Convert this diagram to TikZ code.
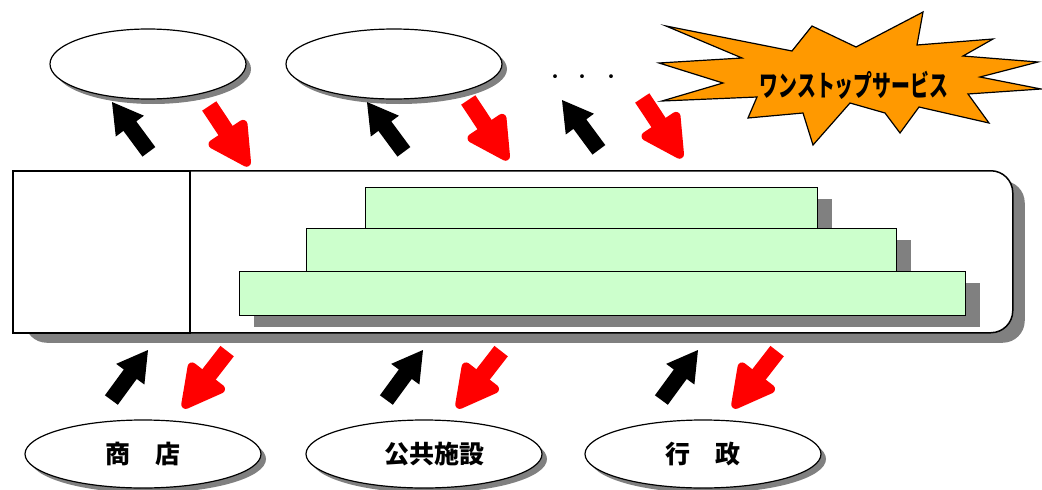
\documentclass[tikz,border=0pt]{standalone}
\usepackage{fontspec}
\newfontfamily\jp{Noto Sans CJK JP}
\usetikzlibrary{shapes.geometric,shadows}
\definecolor{mint}{HTML}{CCFFCC}
\definecolor{burst}{HTML}{FF9900}
\definecolor{shade}{HTML}{808080}
\tikzset{
  bubble/.style={ellipse, draw, line width=1.2pt, fill=white, inner sep=0pt,
    drop shadow={shadow xshift=5pt, shadow yshift=-5pt, fill=shade, opacity=1}},
  layer/.style={rectangle, draw, line width=1.2pt, fill=mint, inner sep=0pt, anchor=north west,
    drop shadow={shadow xshift=14pt, shadow yshift=-11pt, fill=shade, opacity=1}},
  lbl/.style={font=\jp\bfseries\fontsize{25}{25}\selectfont},
  blackarrow/.pic={\fill[black] (0,0) -- (-30,17.5) -- (-30,8) -- (-62,8) -- (-62,-8) -- (-30,-8) -- (-30,-17.5) -- cycle;},
  redarrow/.pic={\fill[red] (-34,-8.5) rectangle (-72,8.5);
    \filldraw[red, line width=9pt, line join=round] (-4.5,0) -- (-38,18) -- (-38,-18) -- cycle;}
}
\begin{document}
\begin{tikzpicture}[x=1pt,y=-1pt]
\useasboundingbox (0,0) rectangle (1042,490);

% top ellipses
\node[bubble, minimum width=196pt, minimum height=70pt] (t1) at (148,64) {};
\node[bubble, minimum width=216pt, minimum height=70pt] (t2) at (394,64) {};
\node[font=\jp\fontsize{18}{18}\selectfont] (dots) at (583,79) {・\hspace{10pt}・\hspace{10pt}・};

% starburst
\filldraw[fill=burst, draw=black, line width=1.2pt, line join=miter]
  (666,26) -- (792,51) -- (812,26) -- (856,47) -- (923,12) -- (917,45) -- (993,39)
  -- (963,56) -- (1038,62) -- (980,77) -- (1041,89) -- (968,94) -- (989,123)
  -- (919,107) -- (900,133) -- (885,113) -- (850,103) -- (813,145) -- (803,113)
  -- (748,118) -- (757,97) -- (662,101) -- (723,83) -- (659,63) -- (742,58) -- cycle;
\node[font=\jp\bfseries\fontsize{29}{29}\selectfont, xscale=0.65] (burstlbl) at (854,85) {ワンストップサービス};

% main panel
\node[draw, line width=1.5pt, fill=white, rounded corners=22pt, anchor=north west,
  minimum width=1000pt, minimum height=162pt, inner sep=0pt,
  drop shadow={shadow xshift=12pt, shadow yshift=-10pt, fill=shade, opacity=1}] (panel) at (12,170) {};
\node[draw, line width=1.5pt, fill=white, anchor=north west, minimum width=177pt, minimum height=162pt, inner sep=0pt] (leftbox) at (12,170) {};

% layers
\node[layer, minimum width=452pt, minimum height=41pt] (l1) at (365,187) {};
\node[layer, minimum width=590pt, minimum height=43pt] (l2) at (306,228) {};
\node[layer, minimum width=726pt, minimum height=44pt] (l3) at (239,271) {};

% bottom ellipses
\node[bubble, lbl, minimum width=236pt, minimum height=68pt] (b1) at (143,454) {商　店};
\node[bubble, lbl, minimum width=236pt, minimum height=68pt] (b2) at (424,454) {\hspace{20pt}公共施設};
\node[bubble, lbl, minimum width=236pt, minimum height=68pt] (b3) at (703,454) {行　政};

% top arrows
\pic[rotate=126.5] at (112,102) {blackarrow};
\pic[rotate=126.5] at (367,102) {blackarrow};
\pic[rotate=126.5] at (562,100) {blackarrow};
\pic[rotate=-56.5] at (249,166) {redarrow};
\pic[rotate=-56.5] at (508,160) {redarrow};
\pic[rotate=-56.5] at (682,158) {redarrow};

% bottom arrows
\pic[rotate=53.8] at (148,350) {blackarrow};
\pic[rotate=53.8] at (423,350) {blackarrow};
\pic[rotate=53.8] at (698,350) {blackarrow};
\pic[rotate=-127.8] at (183,408) {redarrow};
\pic[rotate=-127.8] at (457,408) {redarrow};
\pic[rotate=-127.8] at (733,408) {redarrow};
\end{tikzpicture}
\end{document}
